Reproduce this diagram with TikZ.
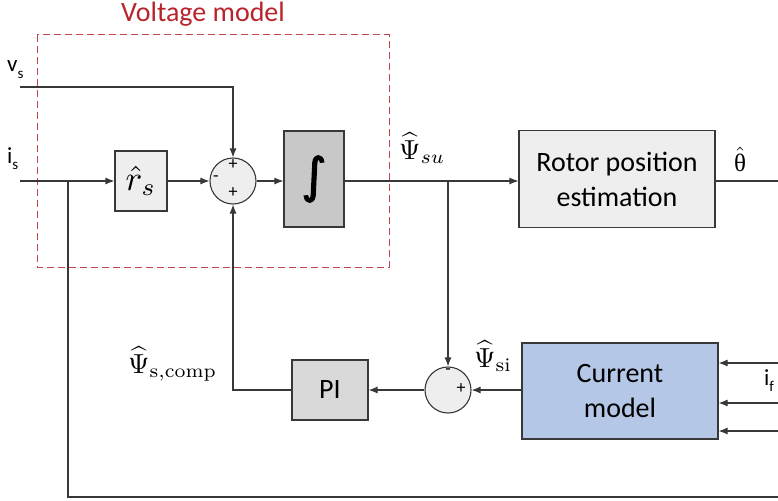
\documentclass[tikz,border=0pt]{standalone}
\usepackage{amsmath}
\usepackage{graphicx}
\usepackage{fontspec}
\usetikzlibrary{arrows.meta}
\newfontfamily\carl{Carlito}
\newfontfamily\thfont{Liberation Serif}
\newfontfamily\intf[FakeBold=2.5]{DejaVu Sans}
\definecolor{ln}{HTML}{383838}
\definecolor{vred}{HTML}{B8242B}
\definecolor{lgray}{HTML}{EEEEEE}
\definecolor{mgray}{HTML}{D9D9D9}
\definecolor{dgray}{HTML}{C8C8C8}
\definecolor{cblue}{HTML}{B4C7E7}
\newcommand\subs[2]{#1\raisebox{-0.28em}{\fontsize{15}{15}\selectfont #2}}
\begin{document}
\begin{tikzpicture}[x=1pt,y=-1pt,
  blk/.style={draw=ln,line width=1.1pt,inner sep=0pt,align=center,
     font=\carl\fontsize{28}{35}\selectfont},
  sumc/.style={circle,draw=ln,line width=1.1pt,fill=lgray,minimum size=46pt,inner sep=0pt},
  wire/.style={draw=ln,line width=1.1pt},
  arr/.style={wire,-{Latex[length=9pt,width=7pt]}},
  sgn/.style={font=\carl\fontsize{18}{18}\selectfont,inner sep=0pt},
  lbl/.style={inner sep=0pt,anchor=base west},
  mth/.style={lbl,font=\fontsize{10}{12}\selectfont}]
\clip (0,0) rectangle (778,500);
% title and dashed frame
\node[font=\carl\fontsize{28}{30}\selectfont,text=vred,inner sep=0pt] (title) at (203,14) {Voltage model};
\draw[vred!85,line width=1pt,dash pattern=on 7pt off 4pt] (37,35) rectangle (389,267);
% blocks
\node[blk,fill=lgray,minimum width=52pt,minimum height=60pt] (rs) at (141,181) {\fontsize{10}{12}\selectfont\scalebox{3.5}{$\hat{r}_s$}};
\node[sumc] (s1) at (233,181) {};
\node[blk,fill=dgray,minimum width=60pt,minimum height=96pt] (integ) at (314,179) {\intf\fontsize{48}{48}\selectfont ∫};
\node[blk,fill=lgray,minimum width=196pt,minimum height=97pt] (rotor) at (617,179) {Rotor position\\estimation};
\node[sumc] (s2) at (448,390) {};
\node[blk,fill=cblue,minimum width=196pt,minimum height=96pt] (cm) at (620,391) {Current\\model};
\node[blk,fill=mgray,minimum width=76pt,minimum height=60pt] (pi) at (330,390) {PI};
% signs
\node[sgn] (p1) at (233,165) {+};
\node[sgn] (m1) at (216,179) {-};
\node[sgn] (p2) at (233,193) {+};
\node[sgn] (m2) at (448,372) {-};
\node[sgn] (p3) at (461,389) {+};
% coordinates
\coordinate (vsin) at (20,87);
\coordinate (isin) at (20,181);
\coordinate (j1) at (68,181);
\coordinate (j2) at (448,181);
\coordinate (thr) at (780,181);
\coordinate (fbr) at (780,497);
\coordinate (in1) at (780,363);
\coordinate (in2) at (780,403);
\coordinate (in3) at (780,431);
% connectors
\draw[arr] (vsin) -| (s1.north);
\draw[arr] (isin) -- (rs.west);
\draw[wire] (j1) |- (fbr);
\draw[arr] (rs.east) -- (s1.west);
\draw[arr] (s1.east) -- (integ.west |- s1.east);
\draw[arr] (integ.east |- j2) -- (rotor.west |- j2);
\draw[arr] (j2) -- (s2.north);
\draw[wire] (rotor.east |- thr) -- (thr);
\draw[arr] (cm.west |- s2.east) -- (s2.east);
\draw[arr] (s2.west) -- (pi.east);
\draw[arr] (pi.west) -| (s1.south);
\draw[arr] (in1) -- (in1 -| cm.east);
\draw[arr] (in2) -- (in2 -| cm.east);
\draw[arr] (in3) -- (in3 -| cm.east);
% labels
\node[lbl,font=\carl\fontsize{23}{26}\selectfont] (vs) at (7,72) {\subs{v}{s}};
\node[lbl,font=\carl\fontsize{23}{26}\selectfont] (is) at (7,163) {\subs{i}{s}};
\node[lbl,font=\carl\fontsize{23}{26}\selectfont] (if) at (764,385) {\subs{i}{f}};
\node[mth] (psu) at (399,159) {\scalebox{2.75}{$\widehat{\Psi}_{su}$}};
\node[mth] (psc) at (128,373) {\scalebox{2.75}{$\widehat{\Psi}_{\mathrm{s,comp}}$}};
\node[mth] (psi) at (474,367) {\scalebox{2.75}{$\widehat{\Psi}_{\mathrm{si}}$}};
\node[mth] (th) at (734,171) {\scalebox{2.5}{$\hat{\text{\thfont θ}}$}};
\end{tikzpicture}
\end{document}
